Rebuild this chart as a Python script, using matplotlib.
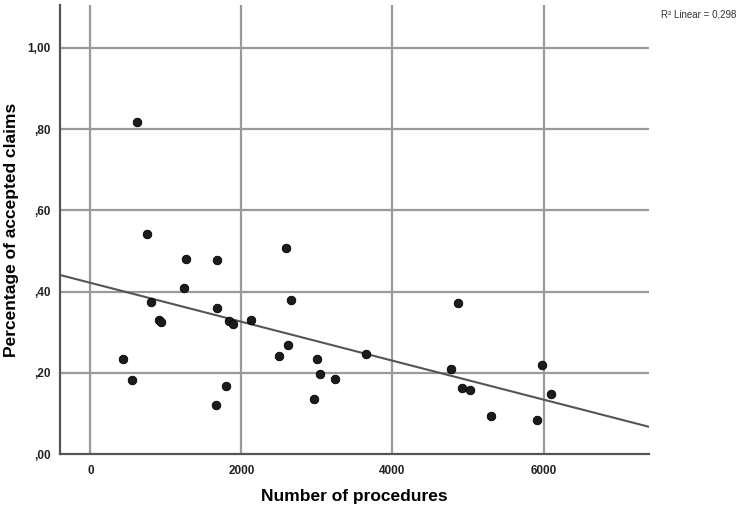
import matplotlib
matplotlib.use('Agg')
import matplotlib.pyplot as plt
import numpy as np

# Number of procedures vs share of accepted claims
procedures = [618, 746, 1262, 1682, 2587, 1236, 808, 914, 931, 433, 556,
              1682, 1837, 1894, 2128, 1801, 1660, 2653, 2618, 2499, 3002,
              3038, 3245, 2962, 3656, 4865, 4777, 4923, 5024, 5978, 6097,
              5311, 5916]
accepted = [0.817, 0.542, 0.479, 0.477, 0.506, 0.408, 0.374, 0.330, 0.325,
            0.233, 0.181, 0.359, 0.328, 0.319, 0.330, 0.167, 0.121, 0.379,
            0.268, 0.241, 0.234, 0.197, 0.185, 0.136, 0.246, 0.371, 0.209,
            0.163, 0.158, 0.218, 0.148, 0.094, 0.084]
x_ticks = [0, 2000, 4000, 6000]
y_ticks = [0.0, 0.2, 0.4, 0.6, 0.8, 1.0]
y_tick_labels = [',00', ',20', ',40', ',60', ',80', '1,00']
r2_text = 'R\u00b2 Linear = 0,298'

plt.rcParams['font.family'] = ['Liberation Sans', 'DejaVu Sans']

fig = plt.figure(figsize=(7.42, 5.09), dpi=100)
ax = fig.add_axes([0.081, 0.108, 0.794, 0.882])

ax.set_xlim(-400, 7400)
ax.set_ylim(0, 1.105)

# grid
for v in x_ticks:
    ax.axvline(v, color='#9a9a9a', lw=1.6, zorder=1)
for v in y_ticks[1:]:
    ax.axhline(v, color='#9a9a9a', lw=1.6, zorder=1)

# fit line
slope, intercept = np.polyfit(procedures, accepted, 1)
xs = np.array([-400, 7400])
ax.plot(xs, intercept + slope * xs, color='#555555', lw=1.5, zorder=2)

ax.scatter(procedures, accepted, s=38, color='#1c1c1c', edgecolor='#000000',
           linewidth=0.6, zorder=3)

for s in ['top', 'right']:
    ax.spines[s].set_visible(False)
for s in ['left', 'bottom']:
    ax.spines[s].set_color('#555555')
    ax.spines[s].set_linewidth(1.6)

ax.set_xticks(x_ticks)
ax.set_xticklabels([str(t) for t in x_ticks])
ax.set_yticks(y_ticks)
ax.set_yticklabels(y_tick_labels)
ax.tick_params(axis='x', length=0, labelsize=8.5, pad=8, colors='#222222')
ax.tick_params(axis='y', length=0, labelsize=8.5, pad=7, colors='#222222')
for lab in ax.get_xticklabels() + ax.get_yticklabels():
    lab.set_fontweight('bold')

ax.set_xlabel('Number of procedures', fontsize=12.5, fontweight='bold')
ax.xaxis.set_label_coords(0.5, -0.079)
ax.set_ylabel('Percentage of accepted claims', fontsize=12.5, fontweight='bold')
ax.yaxis.set_label_coords(-0.07, 0.5)

fig.text(0.992, 0.972, r2_text, ha='right', va='center', fontsize=7, color='#333333')

fig.savefig('out.png', dpi=100)
